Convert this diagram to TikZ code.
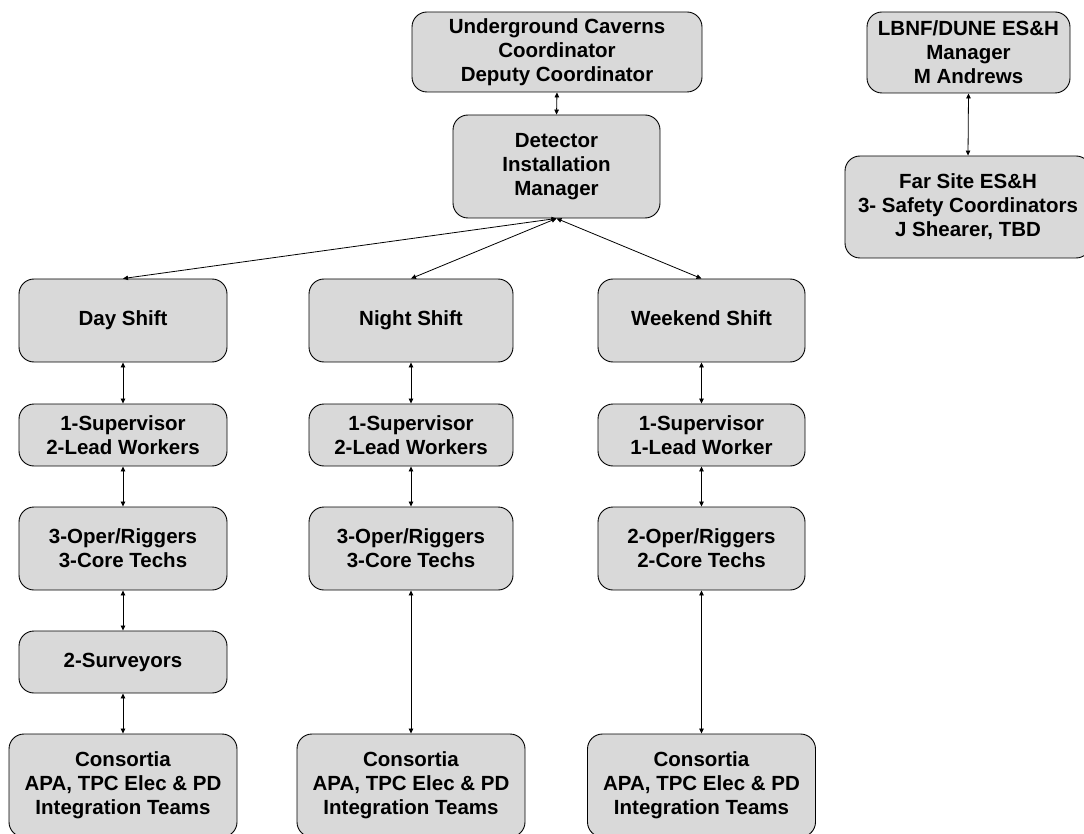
\documentclass[tikz,border=0pt]{standalone}
\usepackage{fontspec}
\setmainfont{Liberation Sans}
\usetikzlibrary{arrows.meta}
\definecolor{boxgray}{RGB}{217,217,217}
\begin{document}
\begin{tikzpicture}[x=1pt, y=-1pt]
	\tikzstyle{unit} = [ draw, rectangle, rounded corners=15pt, fill=boxgray, line width=0.9pt, align=center, inner sep=0pt, font={\fontsize{20.5}{24}\selectfont\bfseries}];
	\tikzstyle{link} = [ {Triangle[length=5pt,width=4.5pt]}-{Triangle[length=5pt,width=4.5pt]}, line width=0.8pt];

	\useasboundingbox (0,0) rectangle (1084,834);

	\node[unit, minimum width=290pt, minimum height=80pt] (caverns) at (557,52) {Underground Caverns\\Coordinator\\Deputy Coordinator};
	\node[unit, minimum width=207pt, minimum height=103pt] (dim) at (556.5,166.5) {Detector\\Installation\\Manager};

	\node[unit, minimum width=203pt, minimum height=81pt] (lbnf) at (968.5,52.5) {LBNF/DUNE ES\&H\\Manager\\M Andrews};
	\node[unit, minimum width=246pt, minimum height=102pt] (farsite) at (968,207) {Far Site ES\&H\\3- Safety Coordinators\\J Shearer, TBD};

	\foreach \col/\x/\w/\title/\lead/\crew in {day/123/208/Day Shift/2-Lead Workers/3, night/411/204/Night Shift/2-Lead Workers/3, weekend/701.5/207/Weekend Shift/1-Lead Worker/2} {
		\node[unit, minimum width=\w pt, minimum height=83pt] (\col) at (\x,320.5) {\strut\title};
		\node[unit, minimum width=\w pt, minimum height=62pt] (\col-sup) at (\x,435) {1-Supervisor\\\lead};
		\node[unit, minimum width=\w pt, minimum height=83pt] (\col-oper) at (\x,548.5) {\crew-Oper/Riggers\\\crew-Core Techs};
		\node[unit, minimum width=228pt, minimum height=103pt] (\col-cons) at (\x,785.5) {Consortia\\APA, TPC Elec \& PD\\Integration Teams};
	}
	\node[unit, minimum width=208pt, minimum height=62pt] (day-surv) at (123,662) {2-Surveyors};

	\draw[link] (caverns.south) -- (dim.north);
	\draw[link] (lbnf.south) -- (farsite.north);

	\foreach \col in {day, night, weekend}
		\draw[link] (dim.south) -- (\col.north);

	\foreach \a/\b in {day/day-sup, day-sup/day-oper, day-oper/day-surv, day-surv/day-cons,
		night/night-sup, night-sup/night-oper, night-oper/night-cons,
		weekend/weekend-sup, weekend-sup/weekend-oper, weekend-oper/weekend-cons}
		\draw[link] (\a.south) -- (\b.north);
\end{tikzpicture}
\end{document}
